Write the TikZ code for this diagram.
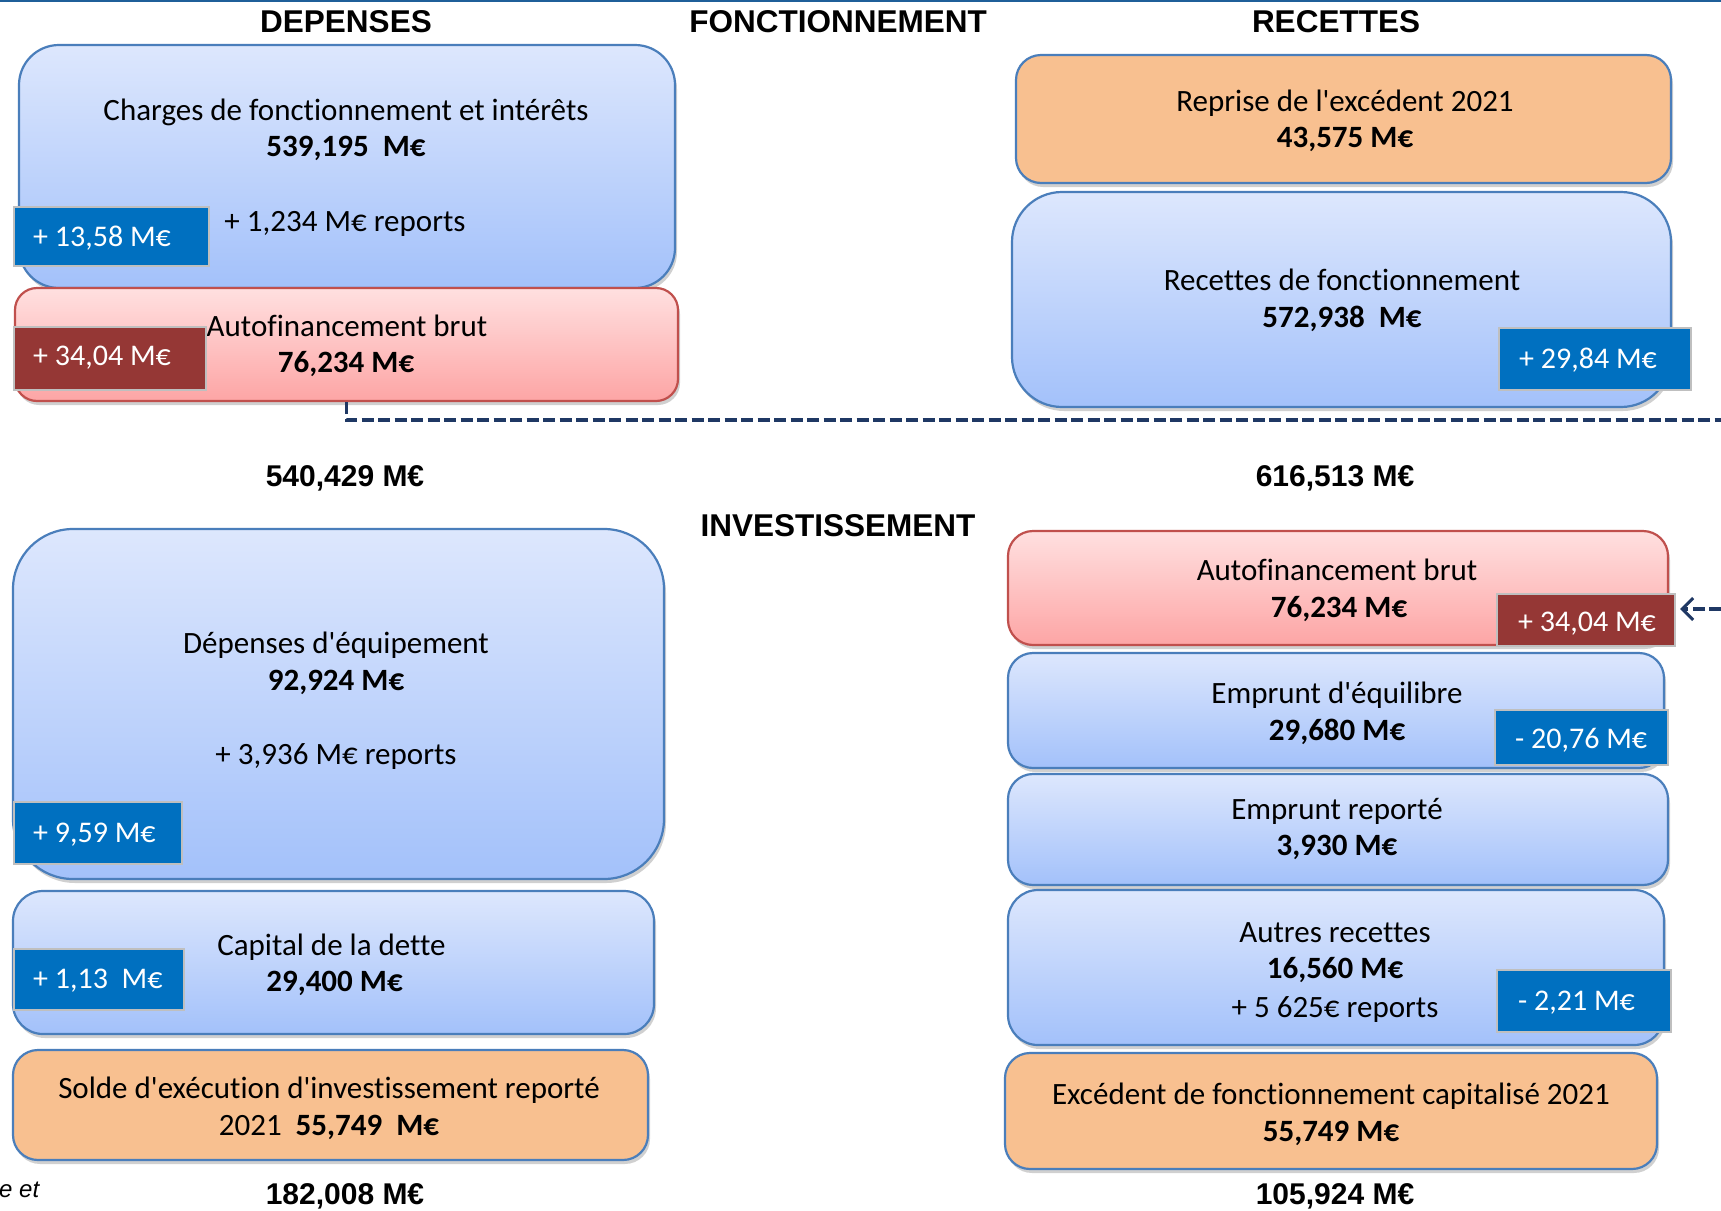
\documentclass[tikz,border=0pt]{standalone}
\usepackage{fontspec}
\setmainfont{Carlito}[Ligatures={TeXOff,NoCommon}]
\newfontfamily\arialf{Liberation Sans}
\usetikzlibrary{shadows,arrows.meta,calc}
\definecolor{bluetop}{HTML}{DDE7FD}
\definecolor{bluebot}{HTML}{A3C1FA}
\definecolor{blueedge}{HTML}{4A7EBB}
\definecolor{pinktop}{HTML}{FFE0E0}
\definecolor{pinkbot}{HTML}{FDA5A5}
\definecolor{pinkedge}{HTML}{C0504D}
\definecolor{orangefill}{HTML}{F8C090}
\definecolor{tagblue}{HTML}{0070C0}
\definecolor{tagred}{HTML}{953735}
\definecolor{tagedge}{HTML}{BFBFBF}
\definecolor{navy}{HTML}{1F3864}
\definecolor{topblue}{HTML}{1F5F99}
\tikzset{
  boxbase/.style={draw, line width=2.2pt, inner sep=0pt,
    drop shadow={shadow xshift=2pt, shadow yshift=-4pt, opacity=0.3, fill=black!60}},
  bluebox/.style={boxbase, draw=blueedge, top color=bluetop, bottom color=bluebot},
  pinkbox/.style={boxbase, draw=pinkedge, top color=pinktop, bottom color=pinkbot},
  orangebox/.style={boxbase, draw=blueedge, fill=orangefill},
  tagbase/.style={draw=tagedge, line width=2pt, inner sep=0pt},
  bluetag/.style={tagbase, fill=tagblue},
  redtag/.style={tagbase, fill=tagred},
  tagtext/.style={anchor=base west, inner sep=0pt, text=white, font=\fontsize{30}{36}\selectfont},
  boxtext/.style={anchor=base, inner sep=0pt, font=\fontsize{31}{37}\selectfont},
  boxval/.style={anchor=base, inner sep=0pt, font=\fontsize{31}{37}\selectfont\bfseries},
  heading/.style={inner sep=0pt, font=\arialf\bfseries\fontsize{31.5}{37}\selectfont},
  total/.style={anchor=base, inner sep=0pt, font=\arialf\bfseries\fontsize{30}{36}\selectfont},
  navydash/.style={draw=navy, line width=3.2pt, dash pattern=on 12pt off 4.5pt},
}
\begin{document}
\begin{tikzpicture}[x=1pt,y=-1pt]
\useasboundingbox[fill=white] (0,0) rectangle (1721,1210);
\draw[topblue, line width=2.5pt] (0,1) -- (1721,1);

% headings
\node[heading] (hdep) at (346,22) {DEPENSES};
\node[heading] (hfon) at (838,22) {FONCTIONNEMENT};
\node[heading] (hrec) at (1336,22) {RECETTES};
\node[heading] (hinv) at (838,526) {INVESTISSEMENT};

% ---------- Fonctionnement, dépenses
\node[bluebox, minimum width=656, minimum height=243, rounded corners=40] (chargesL) at (347,166.5) {};
\node[pinkbox, minimum width=663, minimum height=113, rounded corners=22] (autoL) at (346.5,344.5) {};
\node[boxtext] (chargesT) at (346,120) {Charges de fonctionnement et intérêts};
\node[boxval] (chargesV) at (346,156) {539,195~ M€};
\node[boxtext] (chargesR) at (345,231) {+ 1,234 M€ reports};
\node[boxtext] (autoLT) at (347,336) {Autofinancement brut};
\node[boxval] (autoLV) at (346,372) {76,234 M€};
\node[bluetag, minimum width=195, minimum height=59] (t1) at (111.5,236.5) {};
\node[tagtext] (t1x) at (33,246) {+ 13,58 M€};
\node[redtag, minimum width=192, minimum height=63] (t2) at (110,358.5) {};
\node[tagtext] (t2x) at (33,365) {+ 34,04 M€};

% ---------- Fonctionnement, recettes
\node[orangebox, minimum width=655, minimum height=128, rounded corners=25] (repriseR) at (1343.5,119) {};
\node[boxtext] (repriseT) at (1345,111) {Reprise de l'excédent 2021};
\node[boxval] (repriseV) at (1345,147) {43,575 M€};
\node[bluebox, minimum width=659, minimum height=215, rounded corners=50] (recfR) at (1341.5,299.5) {};
\node[boxtext] (recfT) at (1342,290) {Recettes de fonctionnement};
\node[boxval] (recfV) at (1342,327) {572,938~ M€};
\node[bluetag, minimum width=192, minimum height=62] (t3) at (1595,359) {};
\node[tagtext] (t3x) at (1519,368) {+ 29,84 M€};

% totals
\node[total] (totFD) at (345,486) {540,429 M€};
\node[total] (totFR) at (1335,486) {616,513 M€};
\node[total] (totID) at (345,1204) {182,008 M€};
\node[total] (totIR) at (1335,1204) {105,924 M€};

% ---------- Investissement, dépenses
\node[bluebox, minimum width=651, minimum height=350, rounded corners=60] (equipL) at (338.5,704) {};
\node[boxtext] (equipT) at (336,653) {Dépenses d'équipement};
\node[boxval] (equipV) at (336,690) {92,924 M€};
\node[boxtext] (equipR) at (336,764) {+ 3,936 M€ reports};
\node[bluetag, minimum width=168, minimum height=62] (t4) at (98,833) {};
\node[tagtext] (t4x) at (33,842) {+ 9,59 M€};

\node[bluebox, minimum width=641, minimum height=143, rounded corners=30] (capitalL) at (333.5,962.5) {};
\node[boxtext] (capitalT) at (331.5,955) {Capital de la dette};
\node[boxval] (capitalV) at (334.5,991) {29,400 M€};
\node[bluetag, minimum width=170, minimum height=61] (t5) at (99,979.5) {};
\node[tagtext] (t5x) at (33,988) {+ 1,13~ M€};

\node[orangebox, minimum width=635, minimum height=110, rounded corners=25] (soldeL) at (330.5,1105) {};
\node[boxtext] (soldeT) at (329,1098) {Solde d'exécution d'investissement reporté};
\node[boxtext] (soldeV) at (329,1135) {2021~ \textbf{55,749~ M€}};

\node[anchor=base west, inner sep=0pt, font=\arialf\itshape\fontsize{24}{28}\selectfont] (frag) at (-1,1197) {e et};

% ---------- Investissement, recettes
\node[pinkbox, minimum width=660, minimum height=114, rounded corners=25] (autoR) at (1338,588) {};
\node[boxtext] (autoRT) at (1337,580) {Autofinancement brut};
\node[boxval] (autoRV) at (1339,617) {76,234 M€};
\node[redtag, minimum width=178, minimum height=52] (t6) at (1586,620) {};
\node[tagtext] (t6x) at (1518,631) {+ 34,04 M€};

\node[bluebox, minimum width=656, minimum height=115, rounded corners=25] (empeqR) at (1336,710.5) {};
\node[boxtext] (empeqT) at (1337,703) {Emprunt d'équilibre};
\node[boxval] (empeqV) at (1337,740) {29,680 M€};
\node[bluetag, minimum width=173, minimum height=55] (t7) at (1581.5,737.5) {};
\node[tagtext] (t7x) at (1515,748) {- 20,76 M€};

\node[bluebox, minimum width=660, minimum height=111, rounded corners=25] (emprepR) at (1338,829.5) {};
\node[boxtext] (emprepT) at (1337,819) {Emprunt reporté};
\node[boxval] (emprepV) at (1337,855) {3,930 M€};

\node[bluebox, minimum width=656, minimum height=155, rounded corners=30] (autresR) at (1336,967.5) {};
\node[boxtext] (autresT) at (1335,942) {Autres recettes};
\node[boxval] (autresV) at (1335,978) {16,560 M€};
\node[boxtext] (autresR2) at (1335,1017) {+ 5 625€ reports};
\node[bluetag, minimum width=174, minimum height=62] (t8) at (1584,1001) {};
\node[tagtext] (t8x) at (1518,1010) {- 2,21 M€};

\node[orangebox, minimum width=652, minimum height=116, rounded corners=25] (excedR) at (1331,1111) {};
\node[boxtext] (excedT) at (1331,1104) {Excédent de fonctionnement capitalisé 2021};
\node[boxval] (excedV) at (1331,1141) {55,749 M€};

% ---------- connectors
\coordinate (dashend) at (1721,420);
\draw[navydash] (autoL.south) -- (autoL.south |- dashend) -- (dashend);
\coordinate (arrstart) at (1721,609);
\draw[navydash, shorten >=4pt, -{Straight Barb[length=11pt,width=22pt,line width=3pt]}] (arrstart) -- (arrstart -| t6.east);
\end{tikzpicture}
\end{document}
